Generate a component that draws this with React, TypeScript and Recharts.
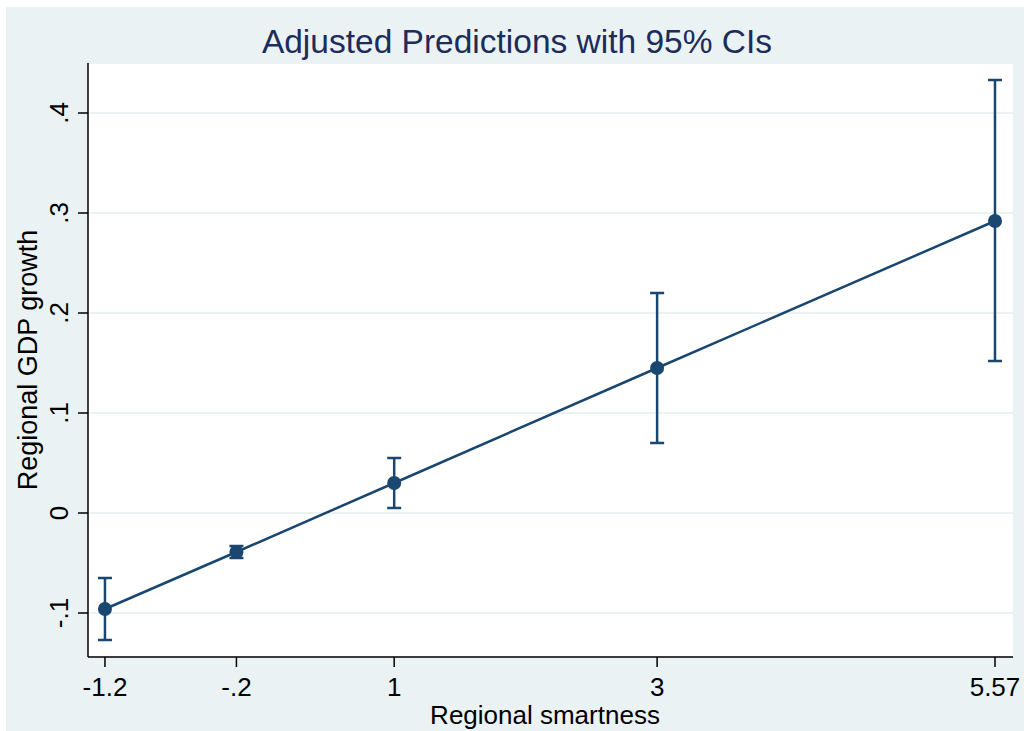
import React from "react";
import { ComposedChart, Line, XAxis, YAxis, CartesianGrid, ErrorBar, Label } from "recharts";

// Stata-style margins plot: predicted growth at each smartness level, with 95% CIs.
const SMARTNESS = [-1.2, -0.2, 1, 3, 5.57];
const PREDICTED = [-0.096, -0.039, 0.03, 0.145, 0.292];
const CI_LOW = [-0.127, -0.045, 0.005, 0.07, 0.152];
const CI_HIGH = [-0.065, -0.033, 0.055, 0.22, 0.433];
const Y_TICKS = [-0.1, 0, 0.1, 0.2, 0.3, 0.4];

const NAVY = "#1a476f";
const BG = "#eaf2f3";
const FONT = "'Liberation Sans', Arial, sans-serif";

const data = SMARTNESS.map((x, i) => ({
  x,
  y: PREDICTED[i],
  ci: [PREDICTED[i] - CI_LOW[i], CI_HIGH[i] - PREDICTED[i]],
}));

// Stata drops the leading zero: .4, -.1
const stataNum = (v: number) => {
  if (v === 0) return "0";
  const s = String(Math.round(v * 100) / 100);
  return s.replace(/^(-?)0\./, "$1.");
};

function XTick(props: { x?: number; y?: number; payload?: { value?: number } }) {
  return (
    <text x={props.x} y={(props.y ?? 0) + 27} textAnchor="middle" fill="#000" fontSize={26} fontFamily={FONT}>
      {stataNum(props.payload?.value ?? 0)}
    </text>
  );
}

function YTick(props: { x?: number; y?: number; payload?: { value?: number } }) {
  const x = (props.x ?? 0) - 8;
  return (
    <text transform={`translate(${x},${props.y}) rotate(-90)`} textAnchor="middle" fill="#000" fontSize={26} fontFamily={FONT}>
      {stataNum(props.payload?.value ?? 0)}
    </text>
  );
}

export default function App() {
  return (
    <div style={{ position: "absolute", left: 0, top: 0, width: 1024, height: 731, background: "#fff" }}>
      <div style={{ position: "absolute", left: 6, top: 7, right: 0, bottom: 0, background: BG }} />
      <div style={{ position: "absolute", left: 0, top: 0 }}>
        <ComposedChart width={1024} height={731} data={data} margin={{ top: 63, right: 11, bottom: 0, left: 0 }}>
          <text x={517} y={53} textAnchor="middle" fill="#1c2c5b" fontSize={33.5} fontFamily={FONT}>
            Adjusted Predictions with 95% CIs
          </text>
          <CartesianGrid vertical={false} stroke={BG} strokeWidth={2} fill="#fff" />
          <XAxis
            type="number" dataKey="x" domain={[-1.329, 5.707]} ticks={SMARTNESS} height={74}
            tickSize={10} stroke="#000" strokeWidth={1.5} tick={<XTick />} allowDataOverflow
          >
            <Label
              content={() => (
                <text x={545} y={724} textAnchor="middle" fill="#000" fontSize={26} fontFamily={FONT}>
                  Regional smartness
                </text>
              )}
            />
          </XAxis>
          <YAxis
            type="number" domain={[-0.144, 0.45]} ticks={Y_TICKS} width={88}
            tickSize={10} stroke="#000" strokeWidth={1.5} tick={<YTick />} allowDataOverflow
          >
            <Label
              content={() => (
                <text transform="translate(37,360) rotate(-90)" textAnchor="middle" fill="#000" fontSize={27} fontFamily={FONT}>
                  Regional GDP growth
                </text>
              )}
            />
          </YAxis>
          <Line
            dataKey="y" stroke={NAVY} strokeWidth={2.5} isAnimationActive={false}
            dot={{ r: 7, fill: NAVY, stroke: NAVY, strokeWidth: 0 }} activeDot={false}
          >
            <ErrorBar dataKey="ci" direction="y" width={7} stroke={NAVY} strokeWidth={2.5} />
          </Line>
        </ComposedChart>
      </div>
    </div>
  );
}
